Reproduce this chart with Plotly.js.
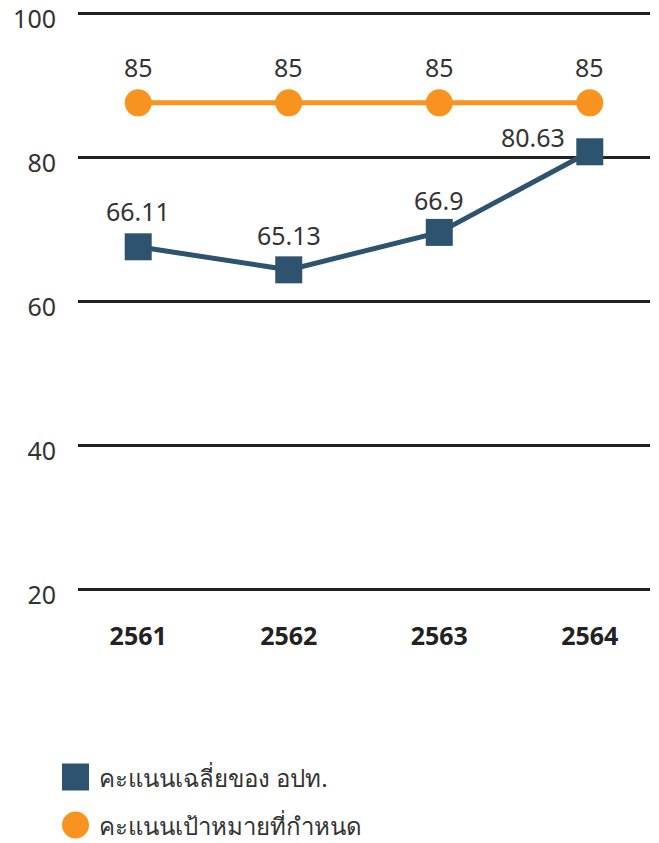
<!DOCTYPE html>
<html>
<head>
<meta charset="utf-8">
<script src="https://cdn.plot.ly/plotly-3.0.1.min.js"></script>
<style>html,body{margin:0;padding:0;background:#fff;}#chart{width:659px;height:843px;}</style>
</head>
<body>
<div id="chart"></div>
<script>
// ---- data ----
const years = ['2561', '2562', '2563', '2564'];
const avgScores = [67.6, 64.4, 69.6, 80.8];          // plotted positions
const avgLabels = ['66.11', '65.13', '66.9', '80.63']; // printed value labels
const targetScores = [87.6, 87.6, 87.6, 87.6];
const targetLabels = ['85', '85', '85', '85'];
const seriesNames = ['คะแนนเฉลี่ยของ อปท.', 'คะแนนเป้าหมายที่กำหนด'];
const yTicks = [20, 40, 60, 80, 100];

// ---- styles ----
const NAVY = '#2E536E';
const ORANGE = '#F7931E';
const FONT = 'Noto Sans, DejaVu Sans, sans-serif';

const traces = [
  {
    x: years, y: targetScores, type: 'scatter', mode: 'lines+markers',
    name: seriesNames[1], showlegend: false, cliponaxis: false,
    line: {color: ORANGE, width: 5},
    marker: {symbol: 'circle', size: 27, color: ORANGE}
  },
  {
    x: years, y: avgScores, type: 'scatter', mode: 'lines+markers',
    name: seriesNames[0], showlegend: false, cliponaxis: false,
    line: {color: NAVY, width: 5},
    marker: {symbol: 'square', size: 27, color: NAVY}
  }
];

const annotations = [];
targetLabels.forEach((t, i) => annotations.push({
  xref: 'x', yref: 'y', x: i, y: targetScores[i], text: t, showarrow: false,
  yanchor: 'middle', xanchor: 'center', yshift: 36,
  font: {family: FONT, size: 25, color: '#333'}
}));
const avgShifts = [[0, 36], [0, 35], [0, 32], [-57, 15]];
avgLabels.forEach((t, i) => annotations.push({
  xref: 'x', yref: 'y', x: i, y: avgScores[i], text: t, showarrow: false,
  yanchor: 'middle', xanchor: 'center', xshift: avgShifts[i][0], yshift: avgShifts[i][1],
  font: {family: FONT, size: 25, color: '#333'}
}));

// manual legend (symbol shapes + text)
const legendRows = [
  {name: seriesNames[0], color: NAVY, kind: 'rect', cy: 777},
  {name: seriesNames[1], color: ORANGE, kind: 'circle', cy: 825}
];
const H = 843, W = 659, ML = 78, MR = 9, MT = 10, MB = 250;
const pw = W - ML - MR, ph = H - MT - MB;
const px2x = px => (px - ML) / pw;
const px2y = py => (H - MB - py) / ph;
const shapes = [];
legendRows.forEach(r => {
  shapes.push({
    type: r.kind, xref: 'paper', yref: 'paper',
    x0: px2x(62), x1: px2x(89), y0: px2y(r.cy + 13.5), y1: px2y(r.cy - 13.5),
    fillcolor: r.color, line: {width: 0}
  });
  annotations.push({
    xref: 'paper', yref: 'paper', x: px2x(97), y: px2y(r.cy),
    xanchor: 'left', yanchor: 'middle', showarrow: false, text: r.name,
    font: {family: FONT, size: 24, color: '#333'}
  });
});

const layout = {
  width: W, height: H,
  margin: {l: ML, r: MR, t: MT, b: MB},
  paper_bgcolor: '#fff', plot_bgcolor: '#fff',
  showlegend: false,
  font: {family: FONT, color: '#333'},
  xaxis: {
    type: 'category', range: [-0.4, 3.4], showgrid: false, zeroline: false, showline: false,
    ticks: 'outside', ticklen: 21, tickcolor: 'rgba(0,0,0,0)',
    tickfont: {family: FONT, size: 25, color: '#222', weight: 'bold'}
  },
  yaxis: {
    range: [19.5, 100.5], tickvals: yTicks, showgrid: true, gridcolor: '#222', gridwidth: 2.5,
    zeroline: false, showline: false, ticks: '',
    ticklabelstandoff: 21, ticklabeloverflow: 'allow', ticklabelshift: 6,
    tickfont: {family: FONT, size: 25, color: '#333'}
  },
  annotations: annotations,
  shapes: shapes
};

Plotly.newPlot('chart', traces, layout, {staticPlot: true, displayModeBar: false});
</script>
</body>
</html>
